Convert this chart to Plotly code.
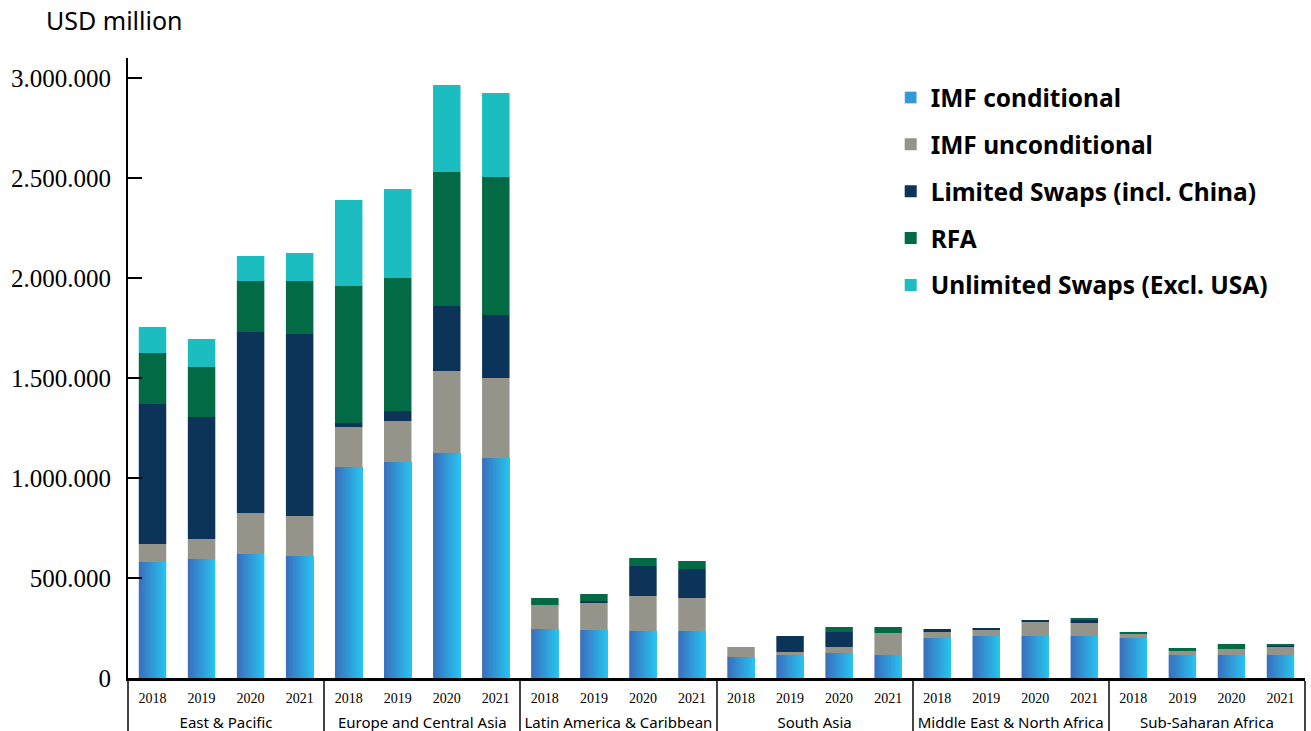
import plotly.graph_objects as go

regions = ["East & Pacific", "Europe and Central Asia", "Latin America & Caribbean",
           "South Asia", "Middle East & North Africa", "Sub-Saharan Africa"]
years = ["2018", "2019", "2020", "2021"]

imf_conditional = [580000, 595000, 620000, 610000,
                   1055000, 1080000, 1125000, 1100000,
                   245000, 240000, 235000, 235000,
                   105000, 115000, 125000, 115000,
                   200000, 210000, 210000, 210000,
                   200000, 115000, 115000, 115000]
imf_unconditional = [90000, 100000, 205000, 200000,
                     200000, 205000, 410000, 400000,
                     120000, 135000, 175000, 165000,
                     50000, 15000, 30000, 110000,
                     30000, 30000, 70000, 65000,
                     20000, 20000, 30000, 40000]
limited_swaps = [700000, 610000, 905000, 910000,
                 20000, 50000, 325000, 315000,
                 0, 10000, 150000, 145000,
                 0, 80000, 75000, 0,
                 15000, 10000, 10000, 15000,
                 0, 0, 0, 5000]
rfa = [255000, 250000, 255000, 265000,
       685000, 665000, 670000, 690000,
       35000, 35000, 40000, 40000,
       0, 0, 25000, 30000,
       0, 0, 0, 10000,
       10000, 15000, 25000, 10000]
unlimited_swaps = [130000, 140000, 125000, 140000,
                   430000, 445000, 435000, 420000,
                   0, 0, 0, 0,
                   0, 0, 0, 0,
                   0, 0, 0, 0,
                   0, 0, 0, 0]

series = [
    ("IMF conditional", imf_conditional, "#3199d8"),
    ("IMF unconditional", imf_unconditional, "#94948a"),
    ("Limited Swaps (incl. China)", limited_swaps, "#0c3358"),
    ("RFA", rfa, "#026a45"),
    ("Unlimited Swaps (Excl. USA)", unlimited_swaps, "#1bbdc0"),
]

# gradient colours for the IMF conditional bars (left -> right)
grad_left = (58, 110, 189)
grad_right = (40, 196, 240)
n_slices = 20
bar_w = 0.56

# a taller hair space on each side of the year label gives the year row more depth
pad = "<span style='font-family:Noto Sans;font-size:20px'>\u200a</span>"
x_outer = [r for r in regions for _ in years]
x_inner = [pad + "<span style='font-family:Liberation Serif;font-size:14px'>%s</span>" % y + pad
           for _ in regions for y in years]
xs = [x_outer, x_inner]

fig = go.Figure()
base = [0] * len(imf_conditional)
for i, (name, vals, col) in enumerate(series):
    if i == 0:
        # legend-only entry
        fig.add_trace(go.Bar(x=xs, y=[None] * len(vals), name=name,
                             marker=dict(color=col), legendgroup="g0",
                             width=bar_w))
        for k in range(n_slices):
            t = (k + 0.5) / n_slices
            c = tuple(round(grad_left[j] + (grad_right[j] - grad_left[j]) * t) for j in range(3))
            w = bar_w / n_slices * (1.6 if k < n_slices - 1 else 1.0)
            fig.add_trace(go.Bar(
                x=xs, y=vals, base=base, showlegend=False, legendgroup="g0",
                width=w,
                offset=-bar_w / 2 + k * bar_w / n_slices,
                marker=dict(color="rgb(%d,%d,%d)" % c, line=dict(width=0)),
                hoverinfo="skip" if k else None,
            ))
    else:
        fig.add_trace(go.Bar(
            x=xs, y=vals, base=list(base), name=name, width=bar_w,
            offset=-bar_w / 2,
            marker=dict(color=col, line=dict(width=0)),
            legendgroup="g%d" % i,
        ))
    base = [b + v for b, v in zip(base, vals)]

fig.update_layout(
    barmode="overlay",
    width=1311, height=731,
    margin=dict(l=128, r=6, t=58, b=53),
    plot_bgcolor="white", paper_bgcolor="white",
    separators=",.",
    font=dict(family="Noto Sans", color="black"),
    legend=dict(
        x=0.648, y=0.9725, xanchor="left", yanchor="top",
        traceorder="grouped", tracegroupgap=12,
        font=dict(family="Noto Sans", size=24.5, weight="bold", color="black"),
        bgcolor="rgba(0,0,0,0)",
    ),
    showlegend=True,
    annotations=[dict(
        text="USD million", xref="paper", yref="paper",
        x=-0.071, y=1.061, xanchor="left", yanchor="middle",
        showarrow=False, font=dict(family="Noto Sans", size=25, color="black"),
    )],
)
fig.update_yaxes(
    range=[0, 3100000],
    tickvals=[0, 500000, 1000000, 1500000, 2000000, 2500000, 3000000],
    tickformat=",d",
    ticks="inside", ticklen=14, tickwidth=2, tickcolor="black",
    ticklabelstandoff=10,
    showline=True, linewidth=2, linecolor="black",
    showgrid=False, zeroline=False,
    tickfont=dict(family="Liberation Serif", size=25, color="black"),
    automargin=False,
)
fig.update_xaxes(
    showline=True, linewidth=3, linecolor="black",
    showgrid=False, ticks="",
    tickfont=dict(family="Noto Sans", size=15, color="black"),
    ticklabelstandoff=4,
    dividercolor="#444444", dividerwidth=1.5,
    automargin=False,
)

fig.write_html("out.html")
